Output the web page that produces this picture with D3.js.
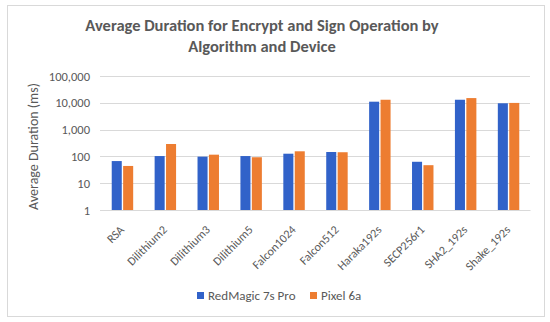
<!DOCTYPE html>
<html><head><meta charset="utf-8">
<script src="https://cdn.jsdelivr.net/npm/d3@7"></script>
<style>body{margin:0;background:#fff;} text{font-family:Carlito,Calibri,Lato,"Open Sans",sans-serif;}</style>
</head><body><svg id="c" width="550" height="322"></svg>
<script>
const categories = ["RSA","Dilithium2","Dilithium3","Dilithium5","Falcon1024","Falcon512","Haraka192s","SECP256r1","SHA2_192s","Shake_192s"];
const seriesNames = ["RedMagic 7s Pro","Pixel 6a"];
const redMagic = [67,103,98,103,126,146,11000,63,13000,9600];
const pixel6a = [44,290,116,93,155,143,13000,47,15000,9900];
const yTicks = [1,10,100,1000,10000,100000];
const colors = ["#3162c9","#ed7d31"];

const svg = d3.select("#c");
svg.append("rect").attr("x",7.5).attr("y",5.5).attr("width",537).attr("height",311)
  .attr("fill","#fff").attr("stroke","#d9d9d9");

svg.append("text").attr("x",262).attr("y",31).attr("text-anchor","middle")
  .attr("font-size",16.5).attr("font-weight","bold").attr("fill","#595959")
  .text("Average Duration for Encrypt and Sign Operation by");
svg.append("text").attr("x",262).attr("y",52).attr("text-anchor","middle")
  .attr("font-size",16.5).attr("font-weight","bold").attr("fill","#595959")
  .text("Algorithm and Device");

const x = d3.scaleBand().domain(categories).range([101,530]);
const y = d3.scaleLog().domain([1,100000]).range([210,76]);
const xs = d3.scaleBand().domain(seriesNames).range([x.bandwidth()*0.25, x.bandwidth()*0.75]).paddingInner(0.12);

// grid
svg.append("g").selectAll("line").data(yTicks).join("line")
  .attr("x1",100).attr("x2",530).attr("y1",d=>Math.round(y(d))+0.5).attr("y2",d=>Math.round(y(d))+0.5)
  .attr("stroke","#d9d9d9").attr("stroke-width",1);

const yAxis = svg.append("g").attr("transform","translate(100,0)")
  .call(d3.axisLeft(y).tickValues(yTicks).tickFormat(d3.format(",")).tickSize(0).tickPadding(10));
yAxis.select(".domain").remove();
yAxis.selectAll("text").attr("font-size",12.5).attr("fill","#595959");

svg.append("text").attr("transform","translate(38,146.5) rotate(-90)").attr("text-anchor","middle")
  .attr("font-size",14).attr("fill","#595959").text("Average Duration (ms)");

const data = categories.map((c,i)=>({c, vals:[{s:seriesNames[0],v:redMagic[i]},{s:seriesNames[1],v:pixel6a[i]}]}));
const g = svg.append("g").selectAll("g").data(data).join("g").attr("transform",d=>`translate(${x(d.c)},0)`);
g.selectAll("rect").data(d=>d.vals).join("rect")
  .attr("x",d=>xs(d.s)).attr("width",xs.bandwidth())
  .attr("y",d=>y(d.v)).attr("height",d=>y(1)-y(d.v))
  .attr("fill",(d,i)=>colors[i]);

const xAxis = svg.append("g").attr("transform","translate(0,210)")
  .call(d3.axisBottom(x).tickSize(0).tickPadding(0));
xAxis.select(".domain").attr("stroke","#d9d9d9");
xAxis.selectAll("text").attr("font-size",12).attr("fill","#595959")
  .attr("text-anchor","end").attr("dy",0)
  .attr("transform","translate(2.5,20.5) rotate(-45)");

const leg = svg.append("g");
const lx = [197,310];
seriesNames.forEach((s,i)=>{
  leg.append("rect").attr("x",lx[i]).attr("y",292).attr("width",7).attr("height",7).attr("fill",colors[i]);
  leg.append("text").attr("x",lx[i]+11).attr("y",300).attr("font-size",13).attr("fill","#595959").text(s);
});
</script></body></html>
